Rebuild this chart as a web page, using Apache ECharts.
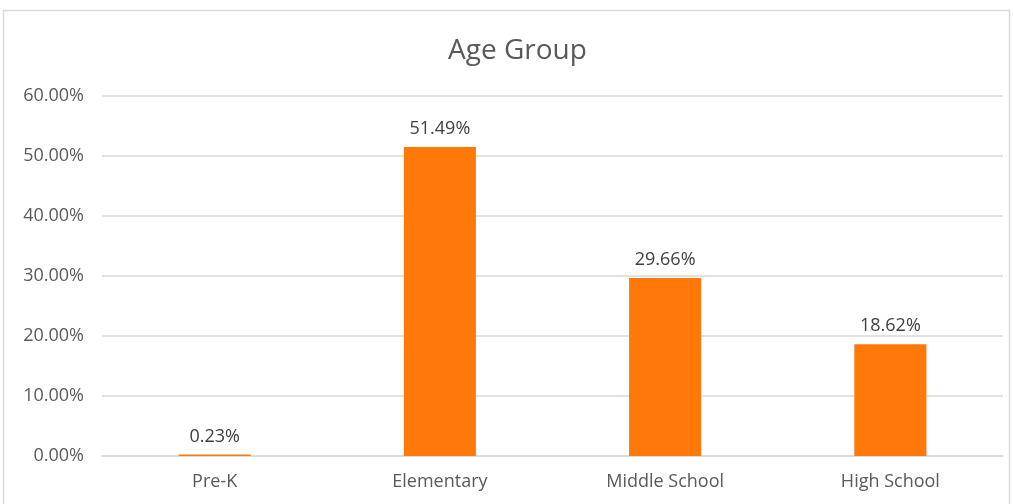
<!DOCTYPE html>
<html><head><meta charset="utf-8">
<script src="https://cdn.jsdelivr.net/npm/echarts@6/dist/echarts.min.js"></script>
<style>html,body{margin:0;padding:0;background:#fff}#c{width:1013px;height:504px}</style>
</head><body><div id="c"></div>
<script>
const categories = ['Pre-K', 'Elementary', 'Middle School', 'High School'];
const values = [0.23, 51.49, 29.66, 18.62];
const yTicks = [0, 10, 20, 30, 40, 50, 60];

const chart = echarts.init(document.getElementById('c'));
const font = 'Open Sans';
chart.setOption({
  animation: false,
  graphic: [{type:'rect', shape:{x:3.5, y:10.5, width:1006, height:500}, style:{fill:'none', stroke:'#d9d9d9', lineWidth:1.5}, silent:true}],
  title: {text:'Age Group', left:443, top:32, textStyle:{fontFamily:font, fontSize:28, fontWeight:'normal', color:'#595959'}},
  grid: {left:102, right:10, top:96, bottom:48, containLabel:false},
  xAxis: {type:'category', data:categories,
    axisLine:{lineStyle:{color:'#d9d9d9', width:1.5}}, axisTick:{show:false},
    axisLabel:{fontFamily:font, fontSize:18, color:'#595959', margin:17}},
  yAxis: {type:'value', min:yTicks[0], max:yTicks[yTicks.length-1], interval:10,
    axisLine:{show:false}, axisTick:{show:false},
    splitLine:{lineStyle:{color:'#d9d9d9', width:1.5}},
    axisLabel:{fontFamily:font, fontSize:18, color:'#595959', margin:18, formatter:v=>v.toFixed(2)+'%'}},
  series: [{type:'bar', data:values, barCategoryGap:'68%',
    itemStyle:{color:'#FF780A'},
    label:{show:true, position:'top', distance:9, fontFamily:font, fontSize:18, color:'#404040', formatter:p=>p.value.toFixed(2)+'%'}}]
});
</script></body></html>
